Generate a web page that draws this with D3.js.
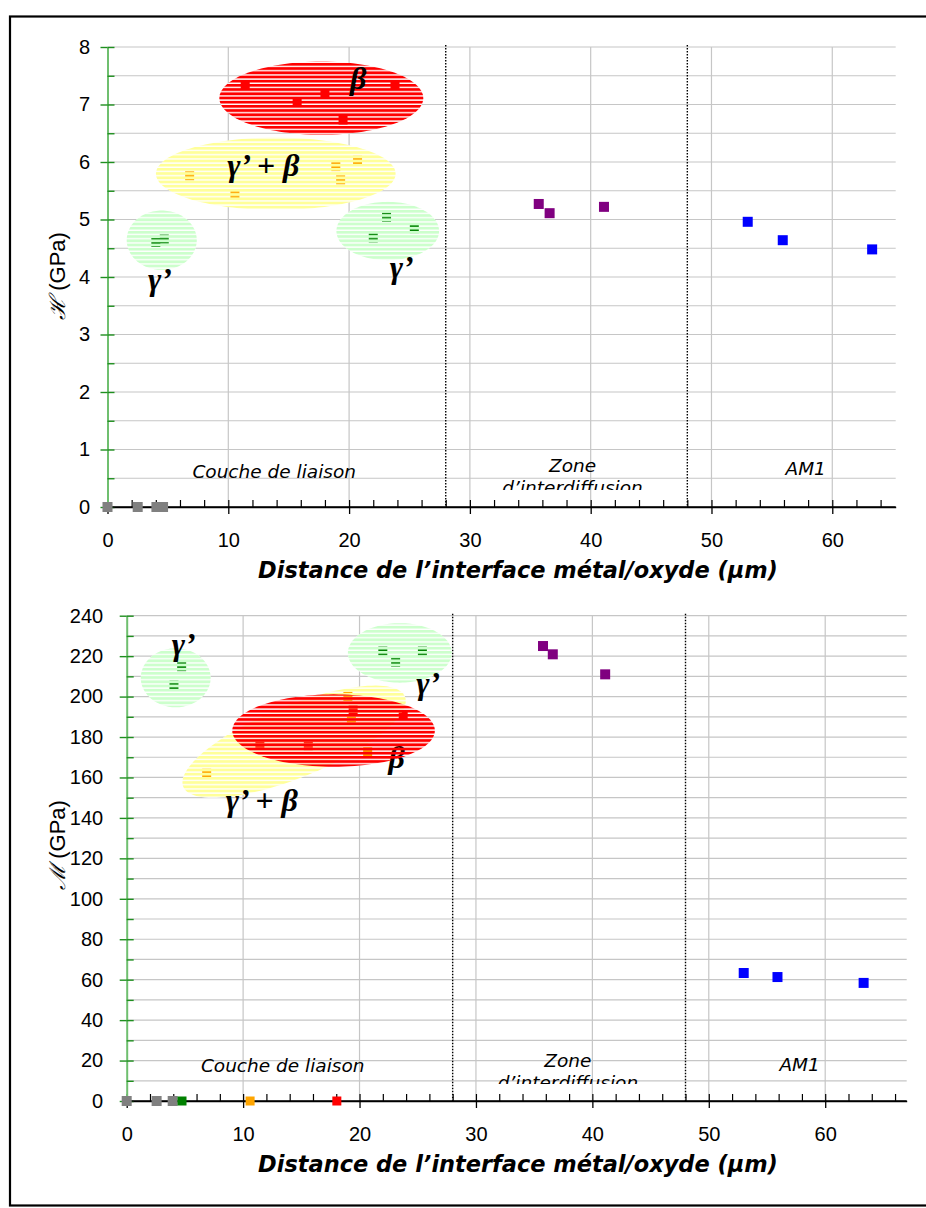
<!DOCTYPE html>
<html><head><meta charset="utf-8">
<script src="https://cdn.jsdelivr.net/npm/d3@7"></script>
<style>body{margin:0;background:#fff}svg{display:block}</style>
</head><body>
<svg id="c" width="926" height="1208"></svg>
<script>
// ---------- Data: hardness H (GPa) vs distance (µm) ----------
const grayX_H = [0, 2.5, 4.05, 4.6];
const grayY_H = [0, 0, 0, 0];
const greenX_H = [4.0, 4.7, 22.0, 23.1, 25.4];
const greenY_H = [4.60, 4.66, 4.68, 5.04, 4.84];
const orangeX_H = [6.8, 10.55, 18.9, 19.3, 20.7];
const orangeY_H = [5.76, 5.44, 5.92, 5.69, 6.03];
const redX_H = [11.4, 15.7, 18.0, 19.5, 23.8];
const redY_H = [7.34, 7.05, 7.19, 6.73, 7.34];
const purpleX_H = [35.7, 36.6, 41.1];
const purpleY_H = [5.27, 5.11, 5.22];
const blueX_H = [53.0, 55.9, 63.3];
const blueY_H = [4.96, 4.64, 4.48];

// ---------- Data: modulus M (GPa) vs distance (µm) ----------
const grayX_M = [0, 2.57, 3.95];
const grayY_M = [0, 0, 0];
const greenX_M = [4.06, 4.72, 4.75, 22.0, 23.1, 25.4];
const greenY_M = [205.7, 214.8, 0, 222.5, 217.0, 222.5];
const orangeX_M = [6.87, 10.6, 19.0, 19.3, 20.7];
const orangeY_M = [162.1, 0, 200.1, 188.4, 172.7];
const redX_M = [11.44, 15.6, 18.05, 19.45, 23.75];
const redY_M = [176.1, 175.7, 0, 193.4, 190.9];
const purpleX_M = [35.76, 36.6, 41.1];
const purpleY_M = [225.0, 220.9, 211.0];
const blueX_M = [53.0, 55.9, 63.3];
const blueY_M = [63.3, 61.3, 58.4];

// ---------- Tick values ----------
const xMajor = [0, 10, 20, 30, 40, 50, 60];
const xGrid = [10, 20, 30, 40, 50, 60];
const zoneBounds = [28, 48];
const yMajor_H = [0, 1, 2, 3, 4, 5, 6, 7, 8];
const yMinor_H = d3.range(0, 8.01, 0.5);
const yMajor_M = d3.range(0, 241, 20);
const yMinor_M = d3.range(0, 241, 10);

// ---------- Annotations (data coordinates) ----------
const phaseZonesH = [
  {fill: 'pRed', cx: 17.7, cy: 7.11, rx: 8.44, ry: 0.638},
  {fill: 'pYel', cx: 13.93, cy: 5.795, rx: 9.92, ry: 0.63},
  {fill: 'pGrn', cx: 4.49, cy: 4.64, rx: 2.9, ry: 0.516},
  {fill: 'pGrn', cx: 23.2, cy: 4.8, rx: 4.25, ry: 0.507}
];
const phaseLabelsH = [
  {t: 'β', x: 20.76, y: 7.27},
  {t: 'γ’ + β', x: 12.9, y: 5.75},
  {t: 'γ’', x: 4.35, y: 3.77},
  {t: 'γ’', x: 24.35, y: 3.98}
];
const phaseZonesM_yellow = {fill: 'pYel', x1: 4.86, y1: 155.4, x2: 23.9, y2: 200.0};
const phaseZonesM_red = {fill: 'pRed', cx: 17.77, cy: 183.2, rx: 8.7, ry: 17.9};
const phaseZonesM_green = [
  {fill: 'pGrn', cx: 4.21, cy: 209.3, rx: 3.0, ry: 14.6},
  {fill: 'pGrn', cx: 23.46, cy: 221.6, rx: 4.46, ry: 14.7}
];
const phaseLabelsM = [
  {t: 'γ’', x: 4.9, y: 220.5},
  {t: 'γ’ + β', x: 11.6, y: 143.5},
  {t: 'γ’', x: 25.9, y: 201.5}
];
const betaLabelM = {t: 'β', x: 23.2, y: 164.5};

const zoneNames = ['Couche de liaison', 'Zone', 'd’interdiffusion', 'AM1'];
const xTitle = 'Distance de l’interface métal/oxyde (µm)';

const svg = d3.select('#c');
const defs = svg.append('defs');
function stripe(id, color) {
  const p = defs.append('pattern').attr('id', id).attr('patternUnits', 'userSpaceOnUse')
    .attr('width', 8).attr('height', 4.2);
  p.append('rect').attr('width', 8).attr('height', 2.8).attr('fill', color);
}
stripe('pRed', '#ff0000'); stripe('pYel', '#ffff99'); stripe('pGrn', '#ccffcc');

// outer frame
svg.append('rect').attr('x', 10).attr('y', 16.5).attr('width', 940).attr('height', 1189)
  .attr('fill', 'none').attr('stroke', '#000').attr('stroke-width', 2.2);

function ellPath(cx, cy, a, b, th) {
  const pts = d3.range(0, 361, 3).map(k => {
    const t = k * Math.PI / 180;
    const u = a * Math.cos(t), v = b * Math.sin(t);
    return [cx + u * Math.cos(th) - v * Math.sin(th), cy + u * Math.sin(th) + v * Math.cos(th)];
  });
  return d3.line()(pts) + 'Z';
}

function chart(o) {
  const g = svg.append('g');
  const x = d3.scaleLinear().domain(o.xDomain).range(o.xRange);
  const y = d3.scaleLinear().domain(o.yDomain).range(o.yRange);
  const [xl, xr] = o.xRange, [yb, yt] = o.yRange;

  // gridlines
  g.append('g').selectAll('line').data(o.yMinor.filter(d => d > 0)).join('line')
    .attr('x1', xl).attr('x2', xr).attr('y1', d => y(d)).attr('y2', d => y(d))
    .attr('stroke', '#c6c6c6').attr('stroke-width', 1.2);
  g.append('g').selectAll('line').data(xGrid).join('line')
    .attr('x1', d => x(d)).attr('x2', d => x(d)).attr('y1', yt).attr('y2', yb)
    .attr('stroke', '#c6c6c6').attr('stroke-width', 1.2);
  // zone boundaries
  g.append('g').selectAll('line').data(zoneBounds).join('line')
    .attr('x1', d => x(d)).attr('x2', d => x(d)).attr('y1', yt - 2).attr('y2', yb)
    .attr('stroke', '#000').attr('stroke-width', 1.4).attr('stroke-dasharray', '1.5,1.5');

  // zone names (clipped)
  const cid = 'clip' + o.id;
  defs.append('clipPath').attr('id', cid).append('rect')
    .attr('x', xl).attr('y', yt).attr('width', xr - xl).attr('height', yb - yt - 17);
  const zt = g.append('g').attr('clip-path', `url(#${cid})`)
    .attr('font-family', 'DejaVu Sans, Verdana, sans-serif').attr('font-style', 'italic')
    .attr('font-size', 18.5).attr('fill', '#000').attr('text-anchor', 'middle');
  zt.append('text').attr('x', x(o.zoneX[0])).attr('y', yb - o.zoneDy[0]).text(zoneNames[0]);
  zt.append('text').attr('x', x(o.zoneX[1])).attr('y', yb - o.zoneDy[1]).text(zoneNames[1]);
  zt.append('text').attr('x', x(o.zoneX[1])).attr('y', yb - o.zoneDy[1] + 22).text(zoneNames[2]);
  zt.append('text').attr('x', x(o.zoneX[2])).attr('y', yb - o.zoneDy[2]).text(zoneNames[3]);

  // axes
  const xa = g.append('g').attr('transform', `translate(0,${yb})`)
    .call(d3.axisBottom(x).tickValues(xMajor).tickSize(7).tickSizeOuter(0).tickPadding(18.5).tickFormat(d3.format('d')));
  xa.select('.domain').attr('stroke', '#000').attr('stroke-width', 1.5);
  xa.selectAll('.tick line').attr('stroke', '#000').attr('stroke-width', 1.3);
  xa.selectAll('.tick text').attr('font-family', 'Liberation Sans, Arial, sans-serif').attr('font-size', 20).attr('fill', '#000');
  const xa2 = g.append('g').attr('transform', `translate(0,${yb})`)
    .call(d3.axisTop(x).tickValues(d3.range(0, o.xDomain[1], 2)).tickSize(7).tickFormat(''));
  xa2.select('.domain').remove();
  xa2.selectAll('.tick line').attr('stroke', '#000').attr('stroke-width', 1.2);

  const ya = g.append('g').attr('transform', `translate(${xl},0)`)
    .call(d3.axisLeft(y).tickValues(o.yMajor).tickSize(7).tickSizeOuter(0).tickPadding(o.yPad).tickFormat(d3.format('d')));
  ya.select('.domain').attr('stroke', '#6fbf6f').attr('stroke-width', 2);
  ya.selectAll('.tick line').attr('stroke', '#1f8f1f').attr('stroke-width', 1.4);
  ya.selectAll('.tick text').attr('font-family', 'Liberation Sans, Arial, sans-serif').attr('font-size', 20).attr('fill', '#000');
  const ya2 = g.append('g').attr('transform', `translate(${xl},0)`)
    .call(d3.axisRight(y).tickValues(o.yMinor).tickSize(7).tickFormat(''));
  ya2.select('.domain').remove();
  ya2.selectAll('.tick line').attr('stroke', '#1f8f1f').attr('stroke-width', 1.4);
  // re-draw x domain over y-axis crossing
  g.append('line').attr('x1', xl).attr('x2', xr).attr('y1', yb).attr('y2', yb).attr('stroke', '#000').attr('stroke-width', 1.5);

  // axis titles
  const yt_ = g.append('text').attr('transform', `translate(${o.yLabelPos[0]},${o.yLabelPos[1]}) rotate(-90)`)
    .attr('text-anchor', 'middle').attr('dominant-baseline', 'central')
    .attr('font-family', 'Liberation Sans, Arial, sans-serif').attr('font-size', 22).attr('fill', '#000');
  yt_.append('tspan').attr('font-family', 'DejaVu Serif, serif').attr('font-style', 'italic').attr('font-size', 22).text(o.yTitle[0]);
  yt_.append('tspan').text(o.yTitle[1]);
  const tt = g.append('text').attr('x', 518).attr('y', yb + 71).attr('text-anchor', 'middle')
    .attr('font-family', 'DejaVu Sans, Verdana, sans-serif').attr('font-weight', 'bold').attr('font-style', 'italic')
    .attr('font-size', 20).attr('fill', '#000').text(xTitle);
  const w = tt.node().getComputedTextLength();
  if (w > 0) tt.attr('font-size', 20 * 520 / w);

  return {g, x, y};
}

function squares(layer, x, y, xs, ys, color, size) {
  layer.append('g').selectAll('rect').data(d3.zip(xs, ys)).join('rect')
    .attr('x', d => x(d[0]) - size / 2).attr('y', d => y(d[1]) - size / 2)
    .attr('width', size).attr('height', size).attr('fill', color);
}
function zone(layer, x, y, z, white) {
  layer.append('path').attr('d', ellPath(x(z.cx), y(z.cy), Math.abs(x(z.cx + z.rx) - x(z.cx)), Math.abs(y(z.cy + z.ry) - y(z.cy)), 0))
    .attr('fill', white ? '#fff' : `url(#${z.fill})`);
}
function tilted(layer, x, y, z, b, white) {
  const p1 = [x(z.x1), y(z.y1)], p2 = [x(z.x2), y(z.y2)];
  const cx = (p1[0] + p2[0]) / 2, cy = (p1[1] + p2[1]) / 2;
  const a = Math.hypot(p2[0] - p1[0], p2[1] - p1[1]) / 2;
  const th = Math.atan2(p2[1] - p1[1], p2[0] - p1[0]);
  layer.append('path').attr('d', ellPath(cx, cy, a, b, th)).attr('fill', white ? '#fff' : `url(#${z.fill})`);
}
function greek(layer, x, y, lab) {
  layer.append('text').attr('x', x(lab.x)).attr('y', y(lab.y)).attr('text-anchor', 'middle')
    .attr('font-family', 'Liberation Serif, Times New Roman, serif').attr('font-weight', 'bold')
    .attr('font-style', 'italic').attr('font-size', 32).attr('fill', '#000').text(lab.t);
}

// ---------- Top chart (H) ----------
const A = chart({id: 'H', xDomain: [0, 65.25], xRange: [107.5, 895.7], yDomain: [0, 8], yRange: [507, 47],
  yMajor: yMajor_H, yMinor: yMinor_H, yPad: 10.5, yTitle: ['ℋ', ' (GPa)'], yLabelPos: [57, 276],
  zoneX: [13.8, 38.5, 57.8], zoneDy: [29, 35, 32]});
{
  const {g, x, y} = A;
  phaseZonesH.forEach(z => zone(g, x, y, z, true));
  squares(g, x, y, grayX_H, grayY_H, '#808080', 10);
  squares(g, x, y, greenX_H, greenY_H, '#008000', 9);
  squares(g, x, y, orangeX_H, orangeY_H, '#ffa500', 9);
  squares(g, x, y, redX_H, redY_H, '#ff0000', 9);
  squares(g, x, y, purpleX_H, purpleY_H, '#800080', 10);
  squares(g, x, y, blueX_H, blueY_H, '#0000ff', 10);
  phaseZonesH.forEach(z => zone(g, x, y, z, false));
  phaseLabelsH.forEach(l => greek(g, x, y, l));
}

// ---------- Bottom chart (M) ----------
const B = chart({id: 'M', xDomain: [0, 67], xRange: [126.7, 906.7], yDomain: [0, 240], yRange: [1101, 615.7],
  yMajor: yMajor_M, yMinor: yMinor_M, yPad: 16.5, yTitle: ['ℳ', ' (GPa)'], yLabelPos: [57, 845],
  zoneX: [13.4, 37.9, 57.8], zoneDy: [29, 34, 30]});
{
  const {g, x, y} = B;
  tilted(g, x, y, phaseZonesM_yellow, 36, true);
  zone(g, x, y, phaseZonesM_red, true);
  phaseZonesM_green.forEach(z => zone(g, x, y, z, true));
  squares(g, x, y, grayX_M, grayY_M, '#808080', 10);
  squares(g, x, y, greenX_M, greenY_M, '#008000', 9);
  squares(g, x, y, orangeX_M, orangeY_M, '#ffa500', 9);
  squares(g, x, y, redX_M, redY_M, '#ff0000', 9);
  squares(g, x, y, purpleX_M, purpleY_M, '#800080', 10);
  squares(g, x, y, blueX_M, blueY_M, '#0000ff', 10);
  tilted(g, x, y, phaseZonesM_yellow, 36, false);
  greek(g, x, y, betaLabelM);
  zone(g, x, y, phaseZonesM_red, false);
  phaseZonesM_green.forEach(z => zone(g, x, y, z, false));
  phaseLabelsM.forEach(l => greek(g, x, y, l));
}
</script>
</body></html>
